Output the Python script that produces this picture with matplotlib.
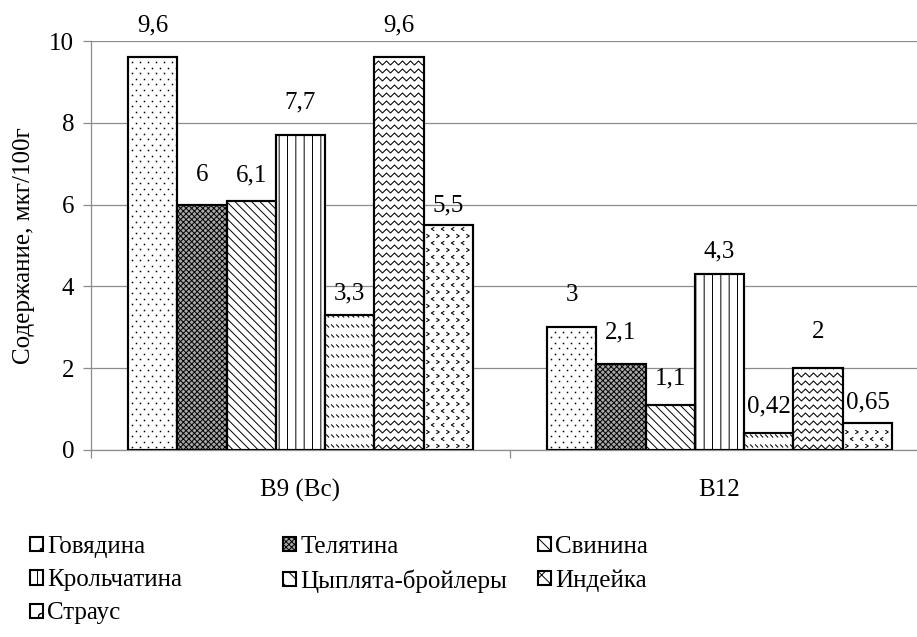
import numpy as np
import matplotlib
matplotlib.use("Agg")
import matplotlib.pyplot as plt
from matplotlib.patches import Patch
from matplotlib.collections import LineCollection
from matplotlib.transforms import IdentityTransform

plt.rcParams['font.family'] = ['Liberation Serif', 'DejaVu Serif']
plt.rcParams['hatch.linewidth'] = 0.7

# vitamin content, mcg per 100 g
groups = ["B9 (Bc)", "B12"]
meats = ["Говядина", "Телятина", "Свинина", "Крольчатина",
         "Цыплята-бройлеры", "Индейка", "Страус"]
b9 = [9.6, 6, 6.1, 7.7, 3.3, 9.6, 5.5]
b12 = [3, 2.1, 1.1, 4.3, 0.42, 2, 0.65]
values = [b9, b12]
labels = [["9,6", "6", "6,1", "7,7", "3,3", "9,6", "5,5"],
          ["3", "2,1", "1,1", "4,3", "0,42", "2", "0,65"]]
# how far each value label sits above its bar, in pixels
label_gap = [[32, 30, 25, 33, 22, 32, 20],
             [32, 32, 27, 23, 26, 36, 21]]

# fill style per meat: (facecolor, built-in hatch or custom texture name)
styles = [("white", "dots"), ("#a8a8a8", "xxxxxx"), ("white", "\\\\\\\\"),
          ("white", "||"), ("white", "dashes"), ("white", "waves"),
          ("white", "chevrons")]
legend_hatch = [".", "xxxxxx", "\\\\\\", "||", "\\\\", "xx", "o"]

FS = 18
W, H, DPI = 917, 637, 100
fig = plt.figure(figsize=(W / DPI, H / DPI), dpi=DPI)
ax = fig.add_axes([91 / W, (H - 450) / H, (929 - 91) / W, (450 - 41) / H])
ax.set_xlim(-0.5, 1.5)
ax.set_ylim(0, 10)

ident = IdentityTransform()


def texture(bar, kind):
    bb = bar.get_window_extent()
    x0, x1, y0, y1 = bb.x0, bb.x1, bb.y0, bb.y1
    if kind == "dots":
        xs, ys = [], []
        for r, y in enumerate(np.arange(y0 + 3, y1 - 1, 5.5)):
            for x in np.arange(x0 + 4 + (r % 2) * 4, x1 - 1, 8):
                xs.append(x)
                ys.append(y)
        line, = ax.plot(xs, ys, 's', ms=1.1, color='black', mew=0,
                        transform=ident, zorder=3.5)
        line.set_clip_path(bar)
        return
    segs = []
    if kind == "dashes":
        for y in np.arange(y0 + 4, y1, 10):
            for x in np.arange(x0 + 1, x1, 5):
                segs.append([(x, y + 1.5), (x + 3, y - 1.5)])
    elif kind == "waves":
        xs = np.arange(x0 - 4, x1 + 8, 4)
        for y in np.arange(y0 + 3, y1 + 4, 8):
            ys = y + np.where(np.arange(len(xs)) % 2 == 0, 2.0, -2.0)
            segs.append(list(zip(xs, ys)))
    elif kind == "chevrons":
        for r, y in enumerate(np.arange(y0 + 4, y1 - 2, 7)):
            d = 1.5 if r % 2 == 0 else -1.5
            for x in np.arange(x0 + 4 + (r % 2) * 5, x1 - 2, 10):
                segs.append([(x - d, y + 1.8), (x + d, y), (x - d, y - 1.8)])
    lc = LineCollection(segs, colors='black', linewidths=0.75,
                        transform=ident, zorder=3.5)
    ax.add_collection(lc)
    lc.set_clip_path(bar)


width = 0.1177
xc = np.arange(len(groups))
for gi in range(len(groups)):
    for mi in range(len(meats)):
        face, hatch = styles[mi]
        custom = hatch in ("dots", "dashes", "waves", "chevrons")
        x = xc[gi] + (mi - 3) * width
        bar = ax.bar(x, values[gi][mi], width, color=face, edgecolor='black',
                     linewidth=1.5, hatch=None if custom else hatch,
                     zorder=3)[0]
        if custom:
            texture(bar, hatch)
        # outline drawn again above the texture
        ax.bar(x, values[gi][mi], width, fill=False, edgecolor='black',
               linewidth=1.5, zorder=4)
        ax.annotate(labels[gi][mi], (x, values[gi][mi]),
                    xytext=(0, label_gap[gi][mi] * 72 / DPI),
                    textcoords='offset points', ha='center', va='center',
                    fontsize=FS)

ax.set_yticks(range(0, 11, 2))
ax.yaxis.grid(True, color='#8c8c8c', linewidth=0.9)
ax.set_axisbelow(True)
ax.set_xticks([-0.5, 0.5, 1.5])
ax.set_xticklabels([])
ax.tick_params(axis='x', length=6, color='#8c8c8c', width=0.9)
ax.tick_params(axis='y', length=6, color='#8c8c8c', width=0.9,
               labelsize=FS, pad=6)
for g, xp in zip(groups, xc):
    ax.text(xp, -0.98, g, ha='center', va='center', fontsize=FS)
for side in ('top', 'right'):
    ax.spines[side].set_visible(False)
for side in ('left', 'bottom'):
    ax.spines[side].set_color('#8c8c8c')
    ax.spines[side].set_linewidth(0.9)
ax.set_ylabel("Содержание, мкг/100г", fontsize=FS, labelpad=10)

handles = [Patch(facecolor=styles[i][0], edgecolor='black', linewidth=1.5,
                 hatch=legend_hatch[i], label=meats[i]) for i in range(len(meats))]
columns = [[0, 3, 6], [1, 4], [2, 5]]
col_x = [30, 283, 538]
for cols, cx in zip(columns, col_x):
    fig.legend([handles[i] for i in cols], [meats[i] for i in cols],
               loc='upper left', bbox_to_anchor=(cx / W, (H - 536) / H),
               frameon=False, fontsize=FS, handlelength=0.5,
               handleheight=0.5, handletextpad=0.2, labelspacing=0.45,
               borderaxespad=0, borderpad=0)

fig.savefig("out.png", dpi=DPI)
